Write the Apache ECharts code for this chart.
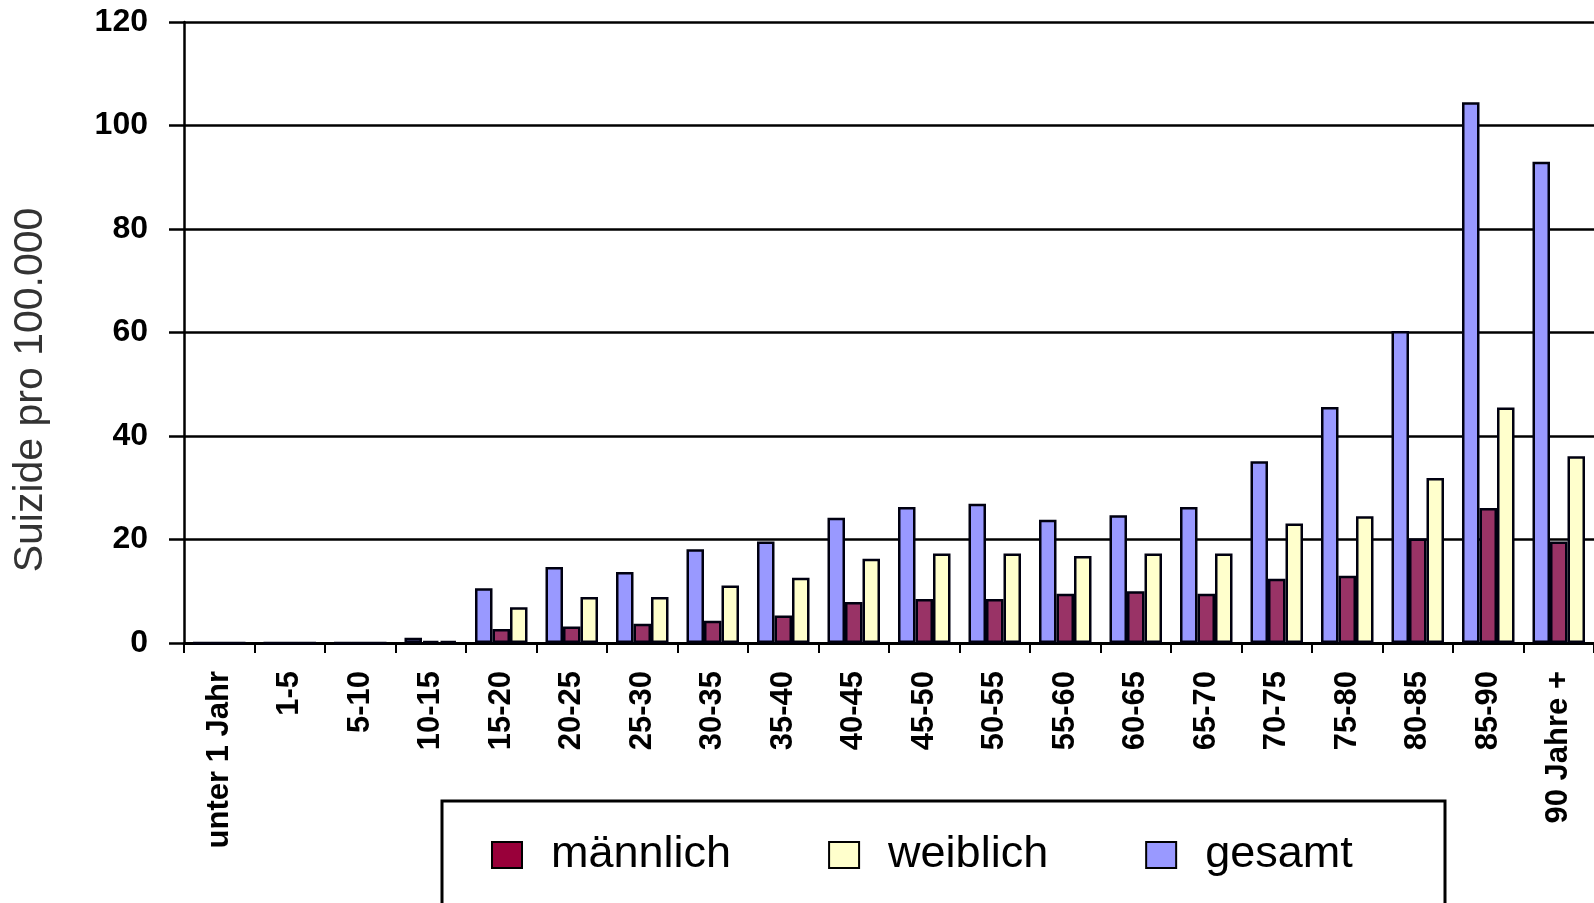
<!DOCTYPE html>
<html>
<head>
<meta charset="utf-8">
<title>Suizide pro 100.000 nach Alter</title>
<script src="https://cdn.jsdelivr.net/npm/echarts@6/dist/echarts.min.js"></script>
<style>
  html, body { margin: 0; padding: 0; background: #fff; }
  #chart { width: 1594px; height: 903px; }
</style>
</head>
<body>
<div id="chart"></div>
<script>
// Age groups on the category axis
const ageGroups = ['unter 1 Jahr', '1-5', '5-10', '10-15', '15-20', '20-25', '25-30', '30-35',
  '35-40', '40-45', '45-50', '50-55', '55-60', '60-65', '65-70', '70-75', '75-80', '80-85',
  '85-90', '90 Jahre +'];

// Suicides per 100,000 inhabitants
const gesamt = [0, 0, 0, 1.0, 10.6, 14.7, 13.7, 18.1, 19.6, 24.2, 26.3, 26.9, 23.8, 24.7, 26.3,
  35.1, 45.6, 60.3, 104.5, 93.0];
const maennlich = [0, 0, 0, 0.4, 2.7, 3.2, 3.7, 4.3, 5.3, 7.9, 8.5, 8.5, 9.5, 10.0, 9.5,
  12.4, 13.0, 20.2, 26.1, 19.6];
const weiblich = [0, 0, 0, 0.4, 6.9, 8.9, 8.9, 11.1, 12.6, 16.3, 17.3, 17.3, 16.8, 17.3, 17.3,
  23.1, 24.5, 31.9, 45.5, 36.1];

const yTicks = { min: 0, max: 120, interval: 20 };
const axisTitle = 'Suizide pro 100.000';

const plain = '"Liberation Sans", Arial, sans-serif';

const barBorder = { borderColor: '#000010', borderWidth: 2.5 };

const chart = echarts.init(document.getElementById('chart'), null, { renderer: 'canvas' });

chart.setOption({
  backgroundColor: '#ffffff',
  animation: false,
  grid: { left: 184, top: 22, width: 1414, height: 621 },
  legend: {
    left: 486,
    top: 827,
    itemWidth: 30,
    itemHeight: 26,
    itemGap: 97,
    icon: 'rect',
    textStyle: {
      fontFamily: plain,
      fontSize: 45,
      color: '#000',
      lineHeight: 46,
      padding: [0, 0, 0, 24]
    },
    data: [
      { name: 'männlich', itemStyle: { color: '#99003a', borderColor: '#000', borderWidth: 2 } },
      { name: 'weiblich', itemStyle: { color: '#ffffcc', borderColor: '#000', borderWidth: 2 } },
      { name: 'gesamt', itemStyle: { color: '#9999ff', borderColor: '#000', borderWidth: 2 } }
    ]
  },
  xAxis: {
    type: 'category',
    data: ageGroups,
    boundaryGap: true,
    axisLine: { show: true, lineStyle: { color: '#000', width: 3 } },
    axisTick: { show: true, length: 10, lineStyle: { color: '#000', width: 2 } },
    axisLabel: {
      rotate: 90,
      interval: 0,
      margin: 28,
      fontFamily: plain,
      fontWeight: 'bold',
      fontSize: 31,
      color: '#000'
    },
    splitLine: { show: false }
  },
  yAxis: {
    type: 'value',
    min: yTicks.min,
    max: yTicks.max,
    interval: yTicks.interval,
    axisLine: { show: true, lineStyle: { color: '#000', width: 2.5 } },
    axisTick: { show: true, length: 15, lineStyle: { color: '#000', width: 2.5 } },
    axisLabel: {
      margin: 36,
      fontFamily: plain,
      fontWeight: 'bold',
      fontSize: 32,
      color: '#000'
    },
    splitLine: { show: true, lineStyle: { color: '#000', width: 2.5 } }
  },
  graphic: [
    {
      type: 'text',
      x: 31,
      y: 390,
      rotation: Math.PI / 2,
      style: {
        text: axisTitle,
        fontFamily: plain,
        fontSize: 41,
        fill: '#333',
        align: 'center',
        verticalAlign: 'middle'
      }
    },
    {
      type: 'rect',
      shape: { x: 442, y: 801, width: 1003, height: 160 },
      style: { fill: 'none', stroke: '#000', lineWidth: 3 },
      z: 10
    }
  ],
  series: [
    {
      name: 'gesamt',
      type: 'bar',
      data: gesamt,
      barWidth: 17.5,
      barGap: '0%',
      itemStyle: Object.assign({ color: '#9999ff' }, barBorder)
    },
    {
      name: 'männlich',
      type: 'bar',
      data: maennlich,
      barWidth: 17.5,
      barGap: '0%',
      itemStyle: Object.assign({ color: '#993366' }, barBorder)
    },
    {
      name: 'weiblich',
      type: 'bar',
      data: weiblich,
      barWidth: 17.5,
      barGap: '0%',
      itemStyle: Object.assign({ color: '#ffffcc' }, barBorder)
    }
  ]
});
</script>
</body>
</html>
